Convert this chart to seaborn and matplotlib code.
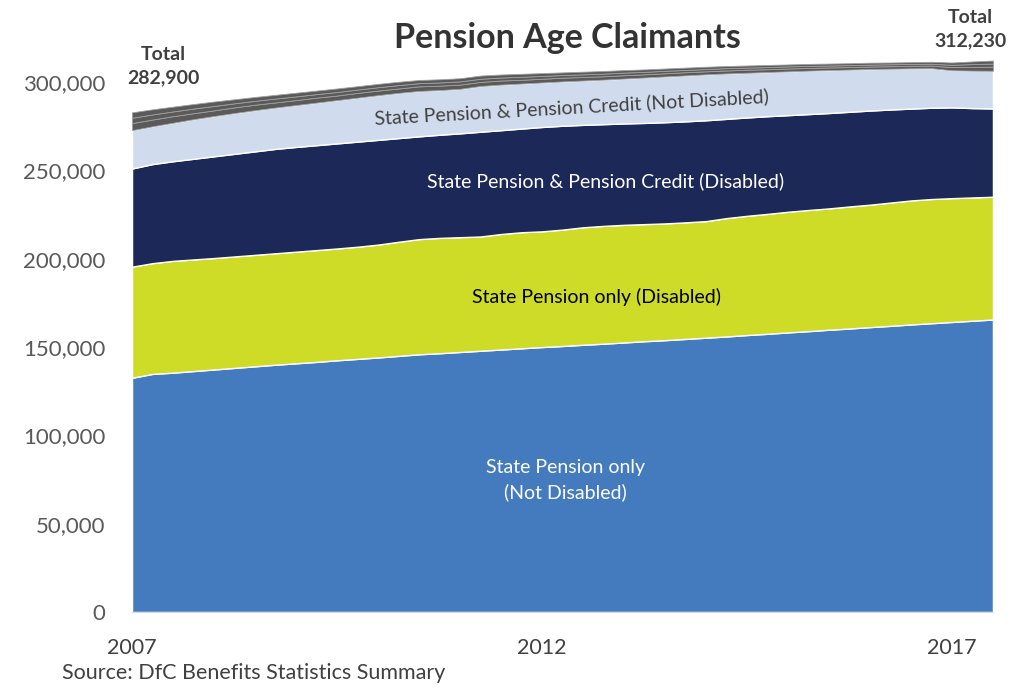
import matplotlib
matplotlib.use('Agg')
import matplotlib.pyplot as plt
import numpy as np
import seaborn as sns
from matplotlib.ticker import FuncFormatter

sns.set_style('white')
plt.rcParams['font.family'] = ['Lato', 'DejaVu Sans']

# quarterly periods, 2007 Q1 .. 2017 Q3
periods = [2007 + q / 4 for q in range(43)]

# claimants, thousands
sp_only_nd = [132.6, 134.8, 135.5, 136.4, 137.3, 138.2, 139.1, 140.0, 140.8, 141.6,
              142.5, 143.3, 144.1, 145.0, 145.9, 146.5, 147.2, 147.9, 148.6, 149.3,
              150.0, 150.6, 151.3, 151.9, 152.6, 153.3, 153.9, 154.6, 155.3, 156.0,
              156.8, 157.5, 158.3, 159.0, 159.8, 160.5, 161.3, 162.0, 162.8, 163.5,
              164.2, 164.9, 165.6]
sp_only_d = [62.9, 62.7, 63.3, 63.2, 63.1, 63.1, 63.1, 63.1, 63.2, 63.3,
             63.3, 63.5, 63.9, 64.6, 65.2, 65.3, 65.0, 64.7, 65.4, 65.7,
             65.5, 65.9, 66.5, 66.7, 66.6, 66.3, 66.1, 66.0, 66.0, 67.0,
             67.5, 67.9, 68.3, 68.6, 68.7, 69.1, 69.3, 69.8, 70.2, 70.3,
             70.1, 69.8, 69.5]
sp_pc_d = [55.6, 56.1, 56.4, 57.0, 57.6, 58.1, 58.6, 59.1, 59.3, 59.4,
           59.5, 59.5, 59.3, 58.7, 58.2, 58.4, 58.8, 59.3, 58.8, 58.7,
           59.1, 58.8, 58.0, 57.6, 57.4, 57.3, 57.3, 57.2, 57.1, 56.2,
           55.7, 55.3, 54.7, 54.3, 54.0, 53.6, 53.3, 52.7, 52.0, 51.7,
           51.4, 50.6, 50.0]
sp_pc_nd = [21.7, 21.4, 21.8, 22.4, 22.8, 23.1, 23.3, 23.4, 23.7, 24.1,
            24.5, 24.9, 25.3, 25.6, 25.7, 25.3, 25.2, 25.9, 25.8, 25.5,
            25.2, 25.1, 25.1, 25.2, 25.4, 25.7, 25.9, 26.0, 26.0, 25.7,
            25.3, 25.0, 24.8, 24.6, 24.3, 23.9, 23.5, 23.1, 22.8, 22.4,
            21.0, 21.2, 21.3]
other_a = [4.0, 3.8, 3.7, 3.4, 3.2, 3.2, 3.1, 2.9, 2.8, 2.8,
           2.6, 2.7, 2.6, 2.5, 2.6, 2.5, 2.4, 2.3, 2.3, 2.1,
           2.1, 2.1, 2.0, 1.9, 1.9, 1.8, 1.8, 1.8, 1.7, 1.7,
           1.7, 1.6, 1.6, 1.5, 1.5, 1.4, 1.4, 1.4, 1.4, 1.4,
           1.8, 2.1, 2.3]
other_b = [3.0, 2.9, 2.7, 2.6, 2.5, 2.3, 2.2, 2.2, 2.1, 2.0,
           2.0, 1.9, 1.9, 1.9, 1.8, 1.8, 1.8, 1.8, 1.7, 1.7,
           1.6, 1.5, 1.5, 1.5, 1.5, 1.4, 1.4, 1.3, 1.3, 1.3,
           1.2, 1.2, 1.2, 1.2, 1.1, 1.1, 1.1, 1.1, 1.1, 1.1,
           1.3, 1.6, 1.8]
other_c = [3.1, 2.9, 2.7, 2.6, 2.5, 2.3, 2.2, 2.1, 2.1, 2.0,
           2.0, 1.9, 1.9, 1.9, 1.8, 1.8, 1.8, 1.8, 1.7, 1.7,
           1.6, 1.5, 1.5, 1.5, 1.4, 1.4, 1.3, 1.3, 1.3, 1.2,
           1.2, 1.2, 1.1, 1.1, 1.1, 1.1, 1.1, 1.0, 1.0, 1.1,
           1.3, 1.5, 1.7]

total_first = '282,900'
total_last = '312,230'
year_ticks = [2007, 2012, 2017]

series = [sp_only_nd, sp_only_d, sp_pc_d, sp_pc_nd, other_a, other_b, other_c]
colors = ['#447bbe', '#cedb27', '#1c2857', '#d0dcee', '#5a5a5a', '#5a5a5a', '#5a5a5a']

fig = plt.figure(figsize=(10.18, 6.88), dpi=100)
ax = fig.add_axes([0.1297, 0.1105, 0.8457, 0.8215])

stacks = ax.stackplot(periods, *[np.array(s) * 1000 for s in series], colors=colors)
# pale seams between the small grey layers
for poly in stacks[4:]:
    poly.set_edgecolor('#a0a0a0')
    poly.set_linewidth(0.6)

ax.set_xlim(periods[0], periods[-1])
ax.set_ylim(0, 320000)
ax.set_yticks(range(0, 300001, 50000))
ax.yaxis.set_major_formatter(FuncFormatter(lambda v, p: '{:,.0f}'.format(v)))
ax.set_xticks(year_ticks)
ax.set_xticklabels([str(y) for y in year_ticks])
ax.tick_params(axis='y', labelsize=16, labelcolor='#595959', pad=19, length=0)
ax.tick_params(axis='x', labelsize=15.5, labelcolor='#404040', pad=19, length=0)

sns.despine(ax=ax, left=True, top=True, right=True)
ax.spines['bottom'].set_color('#d9d9d9')

fig.text(567 / 1018, 1 - 38 / 688, 'Pension Age Claimants', fontsize=24.5, fontweight='bold',
         color='#333333', ha='center', va='center')

# layer labels
ax.text(2012.36, 286000, 'State Pension & Pension Credit (Not Disabled)', fontsize=14,
        color='#404040', ha='center', va='center', rotation=3.2)
ax.text(2012.78, 244000, 'State Pension & Pension Credit (Disabled)', fontsize=14,
        color='white', ha='center', va='center')
ax.text(2012.67, 178300, 'State Pension only (Disabled)', fontsize=14,
        color='black', ha='center', va='center')
ax.text(2012.29, 74700, 'State Pension only\n(Not Disabled)', fontsize=14,
        color='white', ha='center', va='center', linespacing=1.5)

# totals at both ends
fig.text(163 / 1018, 1 - 66 / 688, 'Total\n' + total_first, fontsize=14, fontweight='bold',
         color='#404040', ha='center', va='center', linespacing=1.4)
fig.text(970 / 1018, 1 - 29 / 688, 'Total\n' + total_last, fontsize=14, fontweight='bold',
         color='#404040', ha='center', va='center', linespacing=1.4)

fig.text(62 / 1018, 1 - 673 / 688, 'Source: DfC Benefits Statistics Summary', fontsize=15.5,
         color='#404040', ha='left', va='center')

fig.savefig('out.png', dpi=100)
